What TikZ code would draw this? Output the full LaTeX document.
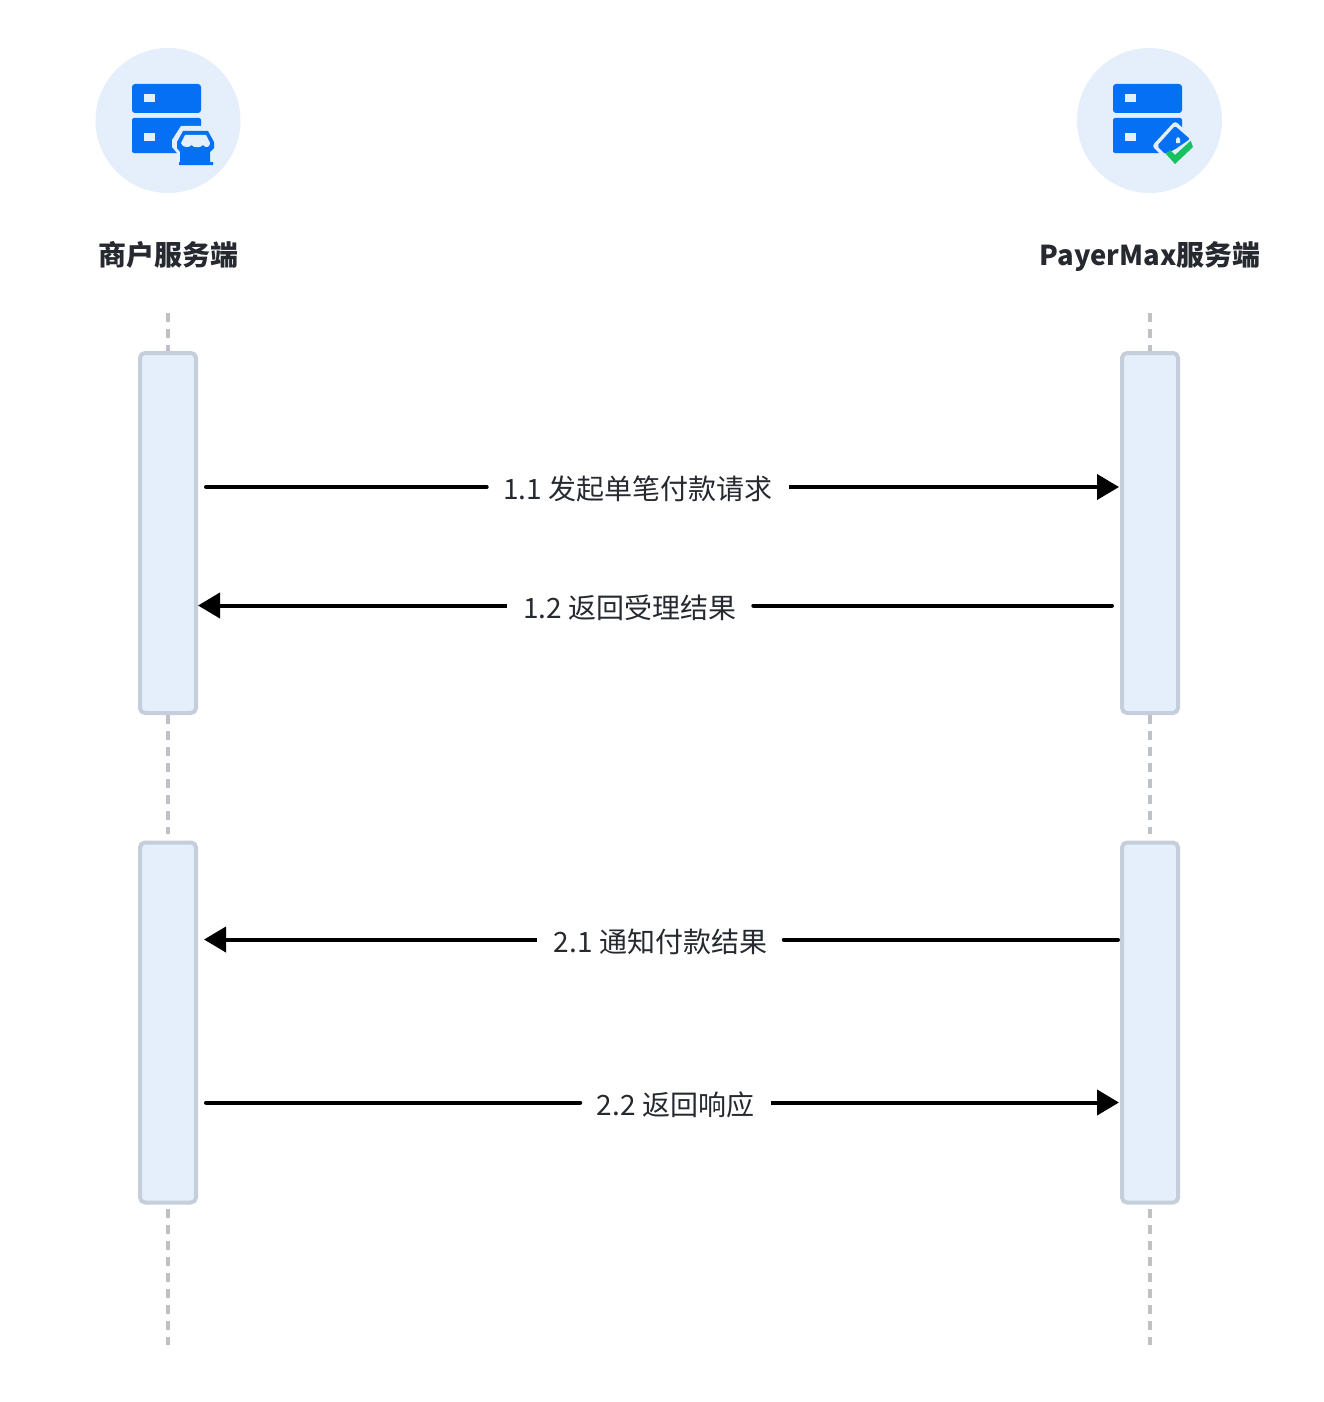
\documentclass[tikz,border=0pt]{standalone}
\usepackage{fontspec}
\usetikzlibrary{arrows.meta}
\setmainfont{Noto Sans CJK SC}
\definecolor{halo}{HTML}{E4EFFB}
\definecolor{iconblue}{HTML}{0670F5}
\definecolor{boxline}{HTML}{C5CFDC}
\definecolor{lifeline}{HTML}{BEC2C6}
\definecolor{okgreen}{HTML}{16C25F}
\definecolor{titletext}{HTML}{262A30}
\tikzset{
    avatar/.style = {circle, fill=halo, minimum size=145pt, inner sep=0pt},
    title/.style = {font=\fontsize{28}{32}\selectfont\bfseries, text=titletext, inner sep=0pt, anchor=base},
    active/.style = {draw=boxline, fill=halo, line width=4pt, rounded corners=5pt, minimum width=56pt, inner sep=0pt},
    msg/.style = {font=\fontsize{28}{32}\selectfont, text=titletext, inner xsep=16.5pt, inner ysep=0pt},
    life/.style = {draw=lifeline, line width=3.5pt, dash pattern=on 9pt off 7pt},
    call/.style = {draw=black, line width=4pt, line cap=round},
    reply/.style = {call, -{Triangle[length=22pt,width=25pt]}, line cap=butt},
}
\newcommand{\serverpic}[1]{%
    \fill[iconblue, rounded corners=3pt] (#1+132,113) -- (#1+132,84) -- (#1+201,84) -- (#1+201,113) -- cycle;
    \fill[iconblue, rounded corners=2pt] (#1+132,153) -- (#1+132,118) -- (#1+201,118) -- (#1+201,153) -- cycle;
    \fill[halo] (#1+144,94) rectangle (#1+155,102);
    \fill[halo] (#1+144,133) rectangle (#1+155,141);
}
\begin{document}
\begin{tikzpicture}[x=1pt, y=-1pt]
    \useasboundingbox (0,0) rectangle (1324,1402);

    % heads of the two columns
    \node[avatar] (shop) at (168,120.5) {};
    \node[avatar] (pmax) at (1149.5,120.5) {};
    \node[title] (shopname) at (168,265.6) {商户服务端};
    \node[title] (pmaxname) at (1150,265.6) {{\fontsize{27.4}{32}\selectfont PayerMax}服务端};

    % merchant icon
    \serverpic{0}
    \fill[halo] (177,153) -- (172,147) -- (172,140) -- (181,126) -- (201.5,126) -- (201.5,160) -- (177,160) -- cycle;
    \fill[iconblue] (183,131) -- (208,131) -- (214,142) -- (214,148) -- (210,152) -- (210,162) -- (213,162) -- (213,165) -- (179,165) -- (179,162) -- (180,162) -- (180,152) -- (177,148) -- (177,142) -- cycle;
    \fill[halo] (185,135) -- (206,135) -- (210,143) .. controls (210,148) and (205,148) .. (203,145) .. controls (201,148) and (193,148) .. (191.5,145) .. controls (190,148) and (182,148) .. (181,143) -- cycle;

    % PayerMax icon
    \serverpic{981}
    \fill[halo, rounded corners=3pt] (1152,146) -- (1175,121) -- (1196,140) -- (1172,166) -- cycle;
    \fill[iconblue, rounded corners=2pt] (1157,146) -- (1175,126) -- (1190,139) -- (1174,150) -- (1166,153) -- (1165,154) -- cycle;
    \fill[halo] (1176,143) -- (1176,139) -- (1178,137) -- (1180,139) -- (1180,143) -- cycle;
    \fill[okgreen] (1166,154) -- (1170,150) -- (1175,155) -- (1190.7,140.7) -- (1193,147) -- (1175,164) -- cycle;

    % activation boxes
    \node[active, minimum height=360pt] (shopa) at (168,533) {};
    \node[active, minimum height=360pt] (pmaxa) at (1150,533) {};
    \node[active, minimum height=360pt] (shopb) at (168,1022.5) {};
    \node[active, minimum height=360pt] (pmaxb) at (1150,1022.5) {};

    % free ends of the lifelines
    \coordinate (shoptop) at (168,313);
    \coordinate (pmaxtop) at (1150,313);
    \coordinate (shopmid) at (168,834);
    \coordinate (pmaxmid) at (1150,834);
    \coordinate (shoplow) at (168,1209);
    \coordinate (pmaxlow) at (1150,1209);
    \coordinate (shopend) at (168,1345);
    \coordinate (pmaxend) at (1150,1345);

    \draw[life] (shoptop) -- (shopa);
    \draw[life] (pmaxtop) -- (pmaxa);
    \draw[life] (shopa) -- (shopmid);
    \draw[life] (pmaxa) -- (pmaxmid);
    \draw[life] (shoplow) -- (shopend);
    \draw[life] (pmaxlow) -- (pmaxend);

    % messages
    \node[msg] (m11) at (638,489) {1.1 发起单笔付款请求};
    \node[msg] (m12) at (630,608) {1.2 返回受理结果};
    \node[msg] (m21) at (660.5,942) {2.1 通知付款结果};
    \node[msg] (m22) at (675.5,1105) {2.2 返回响应};

    \coordinate (f11) at (206,487);
    \coordinate (t11) at (1119,487);
    \coordinate (f12) at (1112,605.5);
    \coordinate (t12) at (198,605.5);
    \coordinate (f21) at (1118,939.5);
    \coordinate (t21) at (204,939.5);
    \coordinate (f22) at (206,1102.5);
    \coordinate (t22) at (1119,1102.5);

    \draw[call] (f11) -- (f11 -| m11.west);
    \draw[reply] (t11 -| m11.east) -- (t11);
    \draw[call] (f12) -- (f12 -| m12.east);
    \draw[reply] (t12 -| m12.west) -- (t12);
    \draw[call] (f21) -- (f21 -| m21.east);
    \draw[reply] (t21 -| m21.west) -- (t21);
    \draw[call] (f22) -- (f22 -| m22.west);
    \draw[reply] (t22 -| m22.east) -- (t22);
\end{tikzpicture}
\end{document}
